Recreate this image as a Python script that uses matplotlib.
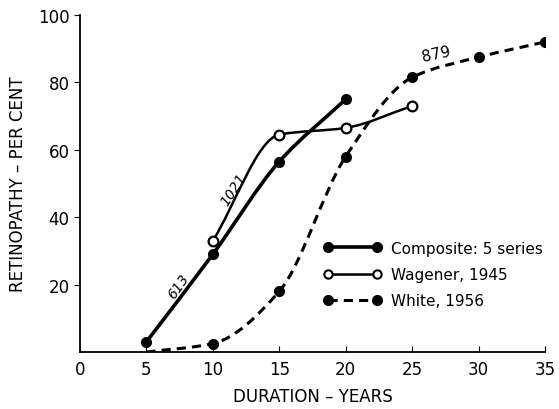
import numpy as np
import matplotlib
matplotlib.use("Agg")
import matplotlib.pyplot as plt
from matplotlib.path import Path
from matplotlib.patches import PathPatch
from matplotlib.lines import Line2D

# Datos
comp_x = [5, 10, 15, 20]
comp_y = [3, 29, 56.5, 75]
wag_x = [10, 15, 20, 25]
wag_y = [33, 64.5, 66.5, 73]
white_x = [5, 10, 15, 20, 25, 30, 35]
white_y = [0, 2.5, 18, 58, 81.5, 87.5, 92]

x_ticks = [0, 5, 10, 15, 20, 25, 30, 35]
y_ticks = [20, 40, 60, 80, 100]


def curva_suave(ax, xs, ys, **kw):
    # Trazo Hermite monotono (Fritsch-Carlson) pasado a Bezier cubica
    x = np.asarray(xs, float)
    y = np.asarray(ys, float)
    h = np.diff(x)
    d = np.diff(y) / h
    m = np.zeros_like(y)
    m[0], m[-1] = d[0], d[-1]
    for k in range(1, len(y) - 1):
        if d[k - 1] * d[k] > 0:
            m[k] = 2 / (1 / d[k - 1] + 1 / d[k])
    verts = [(x[0], y[0])]
    codes = [Path.MOVETO]
    for i in range(len(x) - 1):
        verts += [(x[i] + h[i] / 3, y[i] + m[i] * h[i] / 3),
                  (x[i + 1] - h[i] / 3, y[i + 1] - m[i + 1] * h[i] / 3),
                  (x[i + 1], y[i + 1])]
        codes += [Path.CURVE4] * 3
    ax.add_patch(PathPatch(Path(verts, codes), fill=False, **kw))


fig = plt.figure(figsize=(5.59, 4.10), dpi=100)
ax = fig.add_axes([0.143, 0.139, 0.832, 0.822])

curva_suave(ax, comp_x, comp_y, lw=2.6, edgecolor="black", capstyle="butt")
curva_suave(ax, wag_x, wag_y, lw=1.8, edgecolor="black", capstyle="butt")
curva_suave(ax, white_x, white_y, lw=2.2, edgecolor="black", linestyle=(0, (3, 2)), capstyle="butt")

ax.plot(comp_x, comp_y, "o", color="black", ms=7, zorder=5)
ax.plot(wag_x, wag_y, "o", mfc="white", mec="black", mew=1.6, ms=7, zorder=5)
ax.plot(white_x[1:], white_y[1:], "o", color="black", ms=7, zorder=5)

# Numeros de casos sobre las curvas
ax.text(7.4, 19.5, "613", rotation=55, ha="center", va="center", fontsize=10, style="italic")
ax.text(11.6, 48.5, "1021", rotation=57, ha="center", va="center", fontsize=10, style="italic")
ax.text(26.8, 88.5, "879", rotation=12, ha="center", va="center", fontsize=11)

ax.set_xlim(0, 35)
ax.set_ylim(0, 100)
ax.set_xticks(x_ticks)
ax.set_yticks(y_ticks)
ax.tick_params(axis="x", direction="in", length=4, labelsize=12, pad=6)
ax.tick_params(axis="y", direction="out", length=4, labelsize=12)
for s in ["top", "right"]:
    ax.spines[s].set_visible(False)
ax.spines["left"].set_linewidth(1.3)
ax.spines["bottom"].set_linewidth(1.3)

ax.set_xlabel("DURATION – YEARS", fontsize=12, labelpad=6)
ax.set_ylabel("RETINOPATHY – PER CENT", fontsize=12, labelpad=8)

handles = [
    Line2D([], [], color="black", lw=2.6, marker="o", ms=7),
    Line2D([], [], color="black", lw=1.8, marker="o", ms=6, mfc="white", mew=1.5),
    Line2D([], [], color="black", lw=2.2, ls=(0, (3, 2)), marker="o", ms=7),
]
ax.legend(handles, ["Composite: 5 series", "Wagener, 1945", "White, 1956"],
          numpoints=2, frameon=False, fontsize=11, handlelength=3.8,
          handletextpad=0.6, loc="center left", bbox_to_anchor=(0.495, 0.23),
          labelspacing=0.75)

fig.savefig("out.png", dpi=100)
